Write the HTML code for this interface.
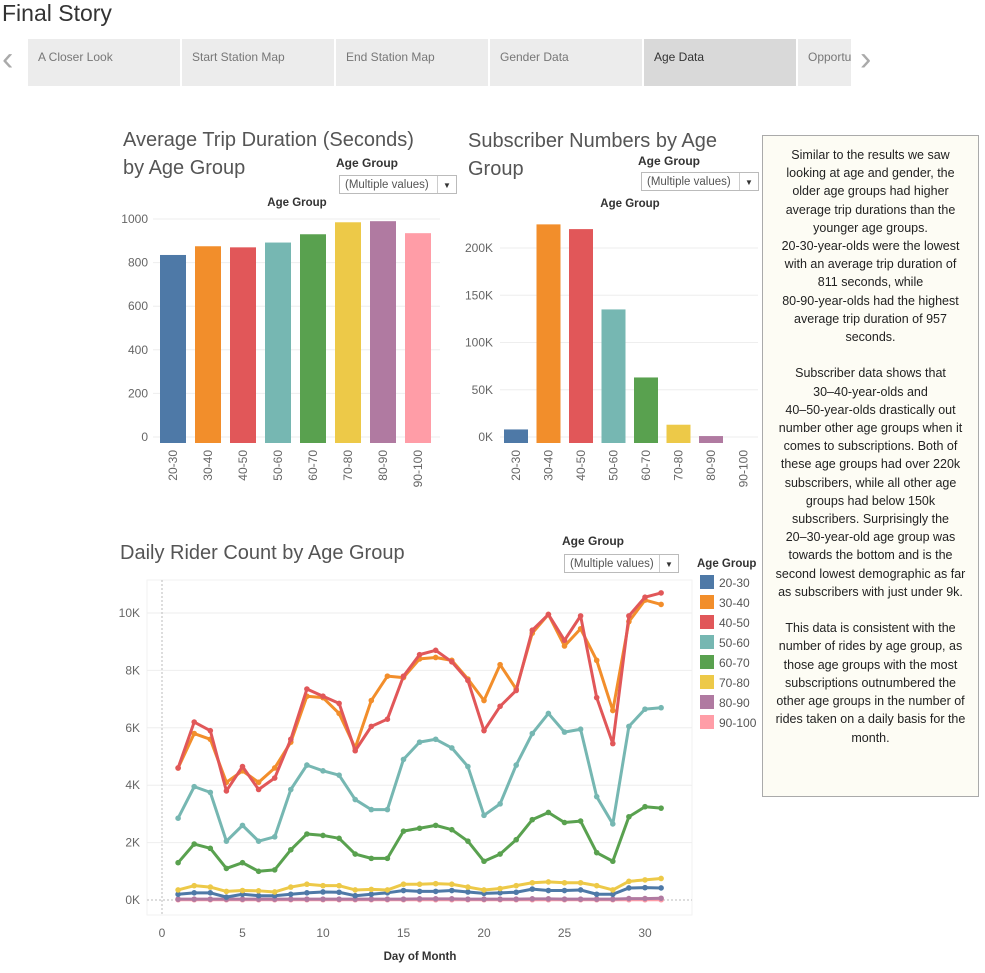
<!DOCTYPE html>
<html><head><meta charset="utf-8"><style>
body{margin:0;width:985px;height:973px;background:#fff;font-family:"Liberation Sans",sans-serif;overflow:hidden;position:relative}
.tab{position:absolute;top:39px;height:47px;width:152px;background:#ececec;color:#777;font-size:12px;line-height:37px;padding-left:10px;box-sizing:border-box;overflow:hidden;white-space:nowrap}
.note{position:absolute;left:762px;top:135px;width:217px;height:662px;background:#fdfcf4;border:1px solid #aaa;box-sizing:border-box;text-align:center;font-size:12.5px;line-height:18.2px;color:#222;padding-top:10px}
.ttl{position:absolute;font-size:20px;color:#555;line-height:28px}
.flab{position:absolute;font-size:12px;font-weight:bold;color:#333}
.dd{position:absolute;height:19px;border:1px solid #bbb;background:#fff;font-size:11.5px;color:#555;line-height:19px;padding-left:5px;box-sizing:border-box}
.dd span{position:absolute;right:0;top:0;width:18px;height:17px;border-left:1px solid #ccc;text-align:center;font-size:8px;color:#333}
</style></head><body>
<div style="position:absolute;left:2px;top:0;font-size:23px;color:#333">Final Story</div>
<div style="position:absolute;left:2px;top:40px;font-size:34px;color:#aaa">&#x2039;</div>
<div class="tab" style="left:28px">A Closer Look</div>
<div class="tab" style="left:182px">Start Station Map</div>
<div class="tab" style="left:336px">End Station Map</div>
<div class="tab" style="left:490px">Gender Data</div>
<div class="tab" style="left:644px;background:#d9d9d9;color:#333">Age Data</div>
<div class="tab" style="left:798px;width:53px">Opportu</div>
<div style="position:absolute;left:860px;top:40px;font-size:34px;color:#aaa">&#x203A;</div>

<div class="ttl" style="left:123px;top:126px">Average Trip Duration (Seconds)<br>by Age Group</div>
<div class="flab" style="left:336px;top:156px">Age Group</div>
<div class="dd" style="left:339px;top:175px;width:118px">(Multiple values)<span>&#9660;</span></div>
<div class="ttl" style="left:468px;top:127px">Subscriber Numbers by Age<br>Group</div>
<div class="flab" style="left:638px;top:154px">Age Group</div>
<div class="dd" style="left:641px;top:172px;width:118px">(Multiple values)<span>&#9660;</span></div>
<div class="ttl" style="left:120px;top:539px">Daily Rider Count by Age Group</div>
<div class="flab" style="left:562px;top:534px">Age Group</div>
<div class="dd" style="left:564px;top:554px;width:115px">(Multiple values)<span>&#9660;</span></div>

<div class="note">Similar to the results we saw<br>looking at age and gender, the<br>older age groups had higher<br>average trip durations than the<br>younger age groups.<br>20-30-year-olds were the lowest<br>with an average trip duration of<br>811 seconds, while<br>80-90-year-olds had the highest<br>average trip duration of 957<br>seconds.<br><br>Subscriber data shows that<br>30–40-year-olds and<br>40–50-year-olds drastically out<br>number other age groups when it<br>comes to subscriptions. Both of<br>these age groups had over 220k<br>subscribers, while all other age<br>groups had below 150k<br>subscribers. Surprisingly the<br>20–30-year-old age group was<br>towards the bottom and is the<br>second lowest demographic as far<br>as subscribers with just under 9k.<br><br>This data is consistent with the<br>number of rides by age group, as<br>those age groups with the most<br>subscriptions outnumbered the<br>other age groups in the number of<br>rides taken on a daily basis for the<br>month.</div>

<svg id="svg" width="985" height="973" style="position:absolute;left:0;top:0" font-family="Liberation Sans, sans-serif"></svg>
<script>
const groups=["20-30","30-40","40-50","50-60","60-70","70-80","80-90","90-100"];
const colors=["#4e79a7","#f28e2b","#e15759","#76b7b2","#59a14f","#edc948","#b07aa1","#ff9da7"];
const durationValues=[835,875,870,892,930,985,990,935];
const durationTicks=[0,200,400,600,800,1000];
const subscriberValues=[8,225,220,135,63,13,1,0];
const subscriberTicks=[0,50,100,150,200];
const days=[1,2,3,4,5,6,7,8,9,10,11,12,13,14,15,16,17,18,19,20,21,22,23,24,25,26,27,28,29,30,31];
const s2030=[0.2,0.25,0.25,0.1,0.2,0.15,0.15,0.2,0.25,0.28,0.27,0.15,0.2,0.25,0.33,0.3,0.3,0.33,0.28,0.23,0.25,0.27,0.38,0.33,0.33,0.35,0.2,0.2,0.42,0.43,0.42];
const s3040=[4.6,5.8,5.6,4.1,4.5,4.1,4.6,5.5,7.1,7.05,6.5,5.3,6.95,7.8,7.75,8.4,8.45,8.35,7.7,6.95,8.2,7.35,9.3,9.95,8.85,9.45,8.35,6.6,9.7,10.45,10.3];
const s4050=[4.6,6.2,5.9,3.8,4.65,3.85,4.25,5.6,7.35,7.1,6.85,5.2,6.05,6.3,7.8,8.55,8.7,8.3,7.65,5.9,6.75,7.3,9.4,9.95,9.05,9.9,7.05,5.45,9.9,10.55,10.7];
const s5060=[2.85,3.95,3.75,2.05,2.6,2.05,2.2,3.85,4.7,4.5,4.35,3.5,3.15,3.15,4.9,5.5,5.6,5.3,4.65,2.95,3.35,4.7,5.8,6.5,5.85,5.95,3.6,2.65,6.05,6.65,6.7];
const s6070=[1.3,1.95,1.8,1.1,1.3,1.0,1.05,1.75,2.3,2.25,2.15,1.6,1.45,1.45,2.4,2.5,2.6,2.45,2.05,1.35,1.6,2.1,2.8,3.05,2.7,2.75,1.65,1.35,2.9,3.25,3.2];
const s7080=[0.35,0.5,0.45,0.3,0.33,0.32,0.28,0.45,0.55,0.5,0.5,0.35,0.37,0.35,0.55,0.55,0.57,0.55,0.45,0.35,0.4,0.5,0.6,0.63,0.6,0.6,0.5,0.35,0.65,0.7,0.75];
const s8090=[0.03,0.03,0.03,0.03,0.03,0.03,0.03,0.03,0.03,0.03,0.03,0.03,0.03,0.03,0.03,0.04,0.04,0.04,0.03,0.03,0.03,0.03,0.04,0.04,0.03,0.03,0.03,0.03,0.05,0.05,0.06];
const s90100=[0.01,0.01,0.01,0.01,0.01,0.01,0.01,0.01,0.01,0.01,0.01,0.01,0.01,0.01,0.01,0.01,0.01,0.01,0.01,0.01,0.01,0.01,0.01,0.01,0.01,0.01,0.01,0.01,0.01,0.01,0.01];
const dailyTicks=[0,2,4,6,8,10];
const dayTicks=[0,5,10,15,20,25,30];

const svg=document.getElementById('svg');const NS='http://www.w3.org/2000/svg';
function mk(t,a,p){const e=document.createElementNS(NS,t);for(const k in a)e.setAttribute(k,a[k]);(p||svg).appendChild(e);return e;}
function txt(x,y,s,a){const e=mk('text',Object.assign({x:x,y:y,'font-size':12,fill:'#666'},a||{}));e.textContent=s;return e;}

// duration bars
const dY=v=>437-v*0.218, dX=i=>173+i*35;
txt(297,206,'Age Group',{'font-size':11.5,'font-weight':'bold',fill:'#333','text-anchor':'middle'});
durationTicks.forEach(t=>{mk('line',{x1:153,x2:440,y1:dY(t),y2:dY(t),stroke:'#eee'});const l=txt(148,dY(t)+4,String(t),{'text-anchor':'end'});});
durationValues.forEach((v,i)=>{const b=mk('rect',{x:dX(i)-13,y:dY(v),width:26,height:Math.max(0,dY(0)-dY(v))+6,fill:colors[i]});


const l=txt(dX(i)+4,450,groups[i],{'text-anchor':'end',transform:`rotate(-90 ${dX(i)+4} 450)`});

});

// subscriber bars
const sY=v=>437-v*0.945, sX=i=>516+i*32.5;
txt(630,207,'Age Group',{'font-size':11.5,'font-weight':'bold',fill:'#333','text-anchor':'middle'});
subscriberTicks.forEach(t=>{mk('line',{x1:500,x2:758,y1:sY(t),y2:sY(t),stroke:'#eee'});const l=txt(493,sY(t)+4,t+'K',{'text-anchor':'end'});});
subscriberValues.forEach((v,i)=>{const h=v>0?(sY(0)-sY(v))+6:0;const b=mk('rect',{x:sX(i)-12,y:sY(0)+6-h,width:24,height:h,fill:colors[i]});


const l=txt(sX(i)+4,450,groups[i],{'text-anchor':'end',transform:`rotate(-90 ${sX(i)+4} 450)`});

});

// line chart
const lX=d=>162+d*16.1, lY=v=>900-v*28.7;
mk('rect',{x:147,y:580,width:545,height:335,fill:'none',stroke:'#f2f2f2'});
dailyTicks.forEach(t=>{mk('line',{x1:147,x2:692,y1:lY(t),y2:lY(t),stroke:'#eee',...(t===0?{stroke:'#bbb','stroke-dasharray':'2,2'}:{})});const l=txt(140,lY(t)+4,t+'K',{'text-anchor':'end'});});
mk('line',{x1:lX(0),x2:lX(0),y1:580,y2:915,stroke:'#bbb','stroke-dasharray':'2,2'});
dayTicks.forEach(t=>{const l=txt(lX(t),937,String(t),{'text-anchor':'middle'});});
const xt=txt(420,960,'Day of Month',{'text-anchor':'middle','font-size':11.5,'font-weight':'bold',fill:'#333'});

const series=[s2030,s3040,s4050,s5060,s6070,s7080,s8090,s90100];
const order=[7,6,0,5,4,3,1,2];
order.forEach(k=>{const s=series[k];const pts=days.map((d,j)=>lX(d)+','+lY(s[j])).join(' ');
const pl=mk('polyline',{points:pts,fill:'none',stroke:colors[k],'stroke-width':3,'stroke-linejoin':'round'});


days.forEach((d,j)=>mk('circle',{cx:lX(d),cy:lY(s[j]),r:2.8,fill:colors[k]}));});

// legend
txt(697,567,'Age Group',{'font-size':11.5,'font-weight':'bold',fill:'#333'});
groups.forEach((g,i)=>{const y=575+i*20;mk('rect',{x:700,y:y,width:14,height:14,fill:colors[i]});
const l=txt(719,y+12,g,{'font-size':12,fill:'#555'});

});
</script>
</body></html>
